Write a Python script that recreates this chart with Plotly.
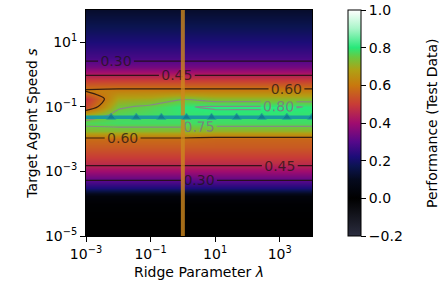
import plotly.graph_objects as go

# ---- data (log10 units) ----
log_lambda = [-3, -2, -1, 0, 1, 2, 3, 4]
log_speed = [-5.0, -4.5, -4.0, -3.75, -3.5, -3.25, -3.0, -2.75, -2.5, -2.25, -2.0,
             -1.75, -1.5, -1.25, -1.0, -0.75, -0.5, -0.25, 0.0, 0.25, 0.5, 1.0, 1.5, 2.0]
performance = [
    [0.00, 0.00, 0.00, 0.00, 0.00, 0.00, 0.00, 0.00],   # -5.0
    [0.00, 0.00, 0.00, 0.00, 0.00, 0.00, 0.00, 0.00],   # -4.5
    [0.01, 0.01, 0.01, 0.01, 0.01, 0.01, 0.01, 0.01],   # -4.0
    [0.04, 0.04, 0.04, 0.04, 0.04, 0.04, 0.04, 0.04],   # -3.75
    [0.22, 0.22, 0.22, 0.22, 0.22, 0.22, 0.22, 0.22],   # -3.5
    [0.31, 0.31, 0.31, 0.31, 0.31, 0.31, 0.31, 0.31],   # -3.25
    [0.40, 0.40, 0.40, 0.40, 0.40, 0.40, 0.40, 0.40],   # -3.0
    [0.47, 0.47, 0.47, 0.47, 0.47, 0.47, 0.47, 0.47],   # -2.75
    [0.51, 0.51, 0.51, 0.51, 0.51, 0.51, 0.51, 0.51],   # -2.5
    [0.55, 0.55, 0.55, 0.55, 0.55, 0.55, 0.55, 0.55],   # -2.25
    [0.58, 0.58, 0.58, 0.58, 0.57, 0.57, 0.57, 0.57],   # -2.0
    [0.72, 0.72, 0.72, 0.72, 0.71, 0.71, 0.71, 0.71],   # -1.75
    [0.77, 0.78, 0.78, 0.78, 0.78, 0.78, 0.78, 0.78],   # -1.5
    [0.70, 0.77, 0.78, 0.79, 0.79, 0.79, 0.79, 0.79],   # -1.25
    [0.52, 0.74, 0.765, 0.797, 0.805, 0.805, 0.805, 0.798],  # -1.0
    [0.48, 0.69, 0.70, 0.745, 0.72, 0.72, 0.72, 0.72],  # -0.75
    [0.61, 0.62, 0.62, 0.62, 0.62, 0.62, 0.62, 0.62],   # -0.5
    [0.53, 0.53, 0.53, 0.53, 0.53, 0.53, 0.53, 0.53],   # -0.25
    [0.44, 0.44, 0.44, 0.44, 0.44, 0.44, 0.44, 0.44],   # 0.0
    [0.34, 0.34, 0.34, 0.34, 0.34, 0.34, 0.34, 0.34],   # 0.25
    [0.28, 0.28, 0.28, 0.28, 0.28, 0.28, 0.28, 0.28],   # 0.5
    [0.22, 0.22, 0.22, 0.22, 0.22, 0.22, 0.22, 0.22],   # 1.0
    [0.17, 0.17, 0.17, 0.17, 0.17, 0.17, 0.17, 0.17],   # 1.5
    [0.12, 0.12, 0.12, 0.12, 0.12, 0.12, 0.12, 0.12],   # 2.0
]

# optimal speed line (log10 s) evaluated at log-spaced lambdas
opt_log_lambda = [-3.0, -2.222, -1.444, -0.667, 0.111, 0.889, 1.667, 2.444, 3.222, 4.0]
opt_log_speed = [-1.32] * 10
chosen_log_lambda = 0.0   # lambda = 1

x_tickvals = [-3, -1, 1, 3]
x_ticktext = ["10<sup>−3</sup>", "10<sup>−1</sup>", "10<sup>1</sup>", "10<sup>3</sup>"]
y_tickvals = [-5, -3, -1, 1]
y_ticktext = ["10<sup>−5</sup>", "10<sup>−3</sup>", "10<sup>−1</sup>", "10<sup>1</sup>"]
cb_tickvals = [-0.2, 0.0, 0.2, 0.4, 0.6, 0.8, 1.0]
cb_ticktext = ["−0.2", "0.0", "0.2", "0.4", "0.6", "0.8", "1.0"]

vmin, vmax = -0.2, 1.0
anchors = [
    (-0.2, "#2b2d3f"), (0.0, "#000000"), (0.1, "#050a1e"), (0.17, "#0b1450"),
    (0.22, "#1c0c78"), (0.30, "#55088a"), (0.40, "#a00c6e"), (0.50, "#c83c36"),
    (0.60, "#c8780e"), (0.68, "#b0a014"), (0.75, "#6ac840"), (0.80, "#28e87a"),
    (0.90, "#a8f5c8"), (1.0, "#ffffff"),
]
colorscale = [[(v - vmin) / (vmax - vmin), c] for v, c in anchors]

FONT = "DejaVu Sans"
W, H = 445, 299
ML, MT, MR, MB = 86, 10, 133, 63
PW = W - ML - MR

fig = go.Figure()
fig.add_trace(go.Heatmap(
    x=log_lambda, y=log_speed, z=performance, zsmooth="best",
    zmin=vmin, zmax=vmax + 1e-6, colorscale=colorscale,
    colorbar=dict(
        x=(348 - 86) / PW, xanchor="left", xpad=0, y=0.5, yanchor="middle", len=1, lenmode="fraction",
        ypad=0, thickness=13, outlinecolor="black", outlinewidth=1,
        tickmode="array", tickvals=cb_tickvals, ticktext=cb_ticktext,
        ticks="outside", ticklen=5, tickwidth=1, tickcolor="black",
        tickfont=dict(family=FONT, size=14, color="black"),
    ),
    hoverinfo="skip",
))
fig.add_trace(go.Contour(
    x=log_lambda, y=log_speed, z=performance, showscale=False,
    contours=dict(start=0.30, end=0.60, size=0.15, coloring="none", showlabels=True,
                  labelformat=".2f",
                  labelfont=dict(family=FONT, size=14, color="rgba(30,20,20,0.75)")),
    line=dict(color="rgba(30,15,15,0.85)", width=1.2, smoothing=0.8),
    hoverinfo="skip",
))
fig.add_trace(go.Contour(
    x=log_lambda, y=log_speed, z=performance, showscale=False,
    contours=dict(start=0.75, end=0.80, size=0.05, coloring="none", showlabels=True,
                  labelformat=".2f",
                  labelfont=dict(family=FONT, size=14, color="rgba(125,125,125,0.95)")),
    line=dict(color="rgba(135,135,135,0.95)", width=1.2, smoothing=0.8),
    hoverinfo="skip",
))
fig.add_trace(go.Scatter(
    x=[chosen_log_lambda, chosen_log_lambda], y=[log_speed[0], log_speed[-1]],
    mode="lines", line=dict(color="rgba(205,135,30,0.8)", width=4), hoverinfo="skip",
))
fig.add_trace(go.Scatter(
    x=opt_log_lambda, y=opt_log_speed, mode="lines+markers",
    line=dict(color="#1a9a9e", width=3.5),
    marker=dict(symbol="triangle-up", size=[0] + [8] * 9, color="#11708c"),
    hoverinfo="skip",
))

axis_common = dict(showline=True, mirror=True, linecolor="black", linewidth=1,
                   ticks="outside", ticklen=5, tickwidth=1, tickcolor="black",
                   showgrid=False, zeroline=False,
                   tickfont=dict(family=FONT, size=14, color="black"))
fig.update_xaxes(range=[-3, 4], tickmode="array", tickvals=x_tickvals, ticktext=x_ticktext,
                 title=dict(text="Ridge Parameter <i>λ</i>", font=dict(family=FONT, size=14, color="black"),
                            standoff=6),
                 **axis_common)
fig.update_yaxes(range=[-5, 2], tickmode="array", tickvals=y_tickvals, ticktext=y_ticktext,
                 title=dict(text="Target Agent Speed <i>s</i>", font=dict(family=FONT, size=14, color="black"),
                            standoff=4),
                 **axis_common)
fig.add_annotation(
    text="Performance (Test Data)", textangle=-90, showarrow=False,
    xref="paper", yref="paper", x=(432 - 86) / PW, y=0.5, xanchor="center", yanchor="middle",
    font=dict(family=FONT, size=14, color="black"),
)
fig.update_layout(
    width=W, height=H, showlegend=False,
    margin=dict(l=ML, r=MR, t=MT, b=MB, autoexpand=False),
    paper_bgcolor="white", plot_bgcolor="white",
    font=dict(family=FONT, size=14, color="black"),
)
fig.write_html("out.html", config={"displayModeBar": False},
               post_script="document.body.style.margin='0px';document.body.style.overflow='hidden';")
